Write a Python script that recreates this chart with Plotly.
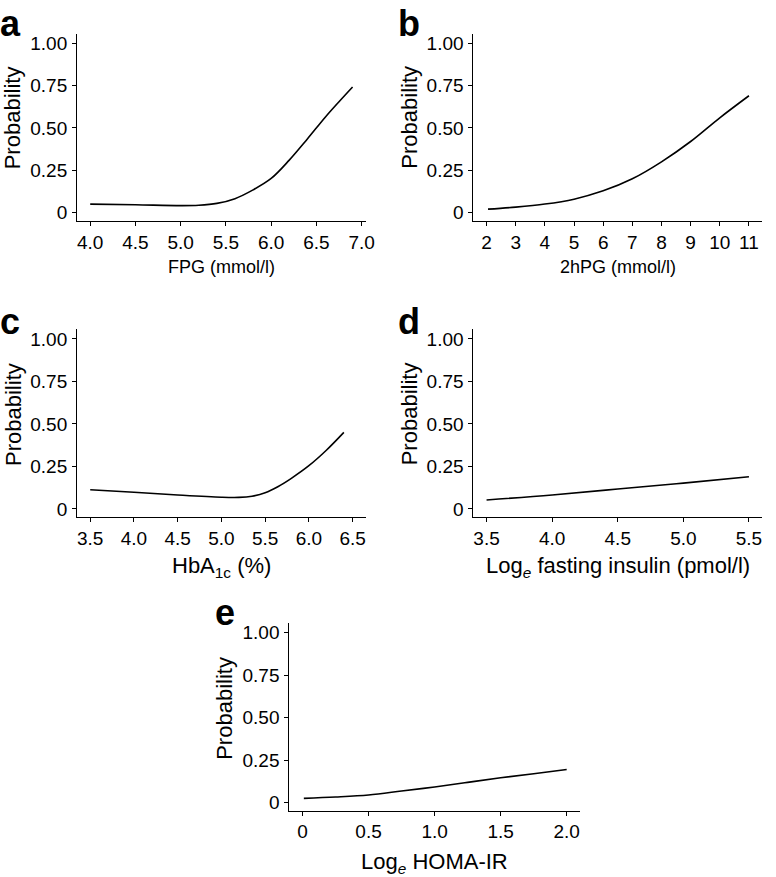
import plotly.graph_objects as go

# ---------------- data ----------------
fpg_x = [4.0, 4.5, 5.0, 5.2, 5.4, 5.6, 5.8, 6.0, 6.2, 6.4, 6.6, 6.75, 6.9]
fpg_y = [0.051, 0.047, 0.042, 0.044, 0.055, 0.083, 0.135, 0.202, 0.31, 0.435, 0.565, 0.655, 0.742]

pg2h_x = [2.05, 3, 4, 5, 6, 7, 8, 9, 10, 11]
pg2h_y = [0.021, 0.033, 0.051, 0.080, 0.129, 0.200, 0.300, 0.420, 0.560, 0.690]

hba_x = [3.5, 4.0, 4.5, 5.0, 5.2, 5.35, 5.5, 5.65, 5.8, 6.0, 6.2, 6.4]
hba_y = [0.113, 0.098, 0.082, 0.069, 0.068, 0.075, 0.095, 0.132, 0.18, 0.254, 0.345, 0.450]

ins_x = [3.5, 4.0, 4.5, 5.0, 5.5]
ins_y = [0.053, 0.082, 0.117, 0.152, 0.189]

homa_x = [0.01, 0.25, 0.5, 0.75, 1.0, 1.25, 1.5, 1.75, 2.0]
homa_y = [0.025, 0.033, 0.045, 0.068, 0.092, 0.119, 0.146, 0.170, 0.195]

prob_ticks = [0, 0.25, 0.5, 0.75, 1.0]
prob_labels = ["0", "0.25", "0.50", "0.75", "1.00"]

fpg_ticks = [4.0, 4.5, 5.0, 5.5, 6.0, 6.5, 7.0]
pg2h_ticks = [2, 3, 4, 5, 6, 7, 8, 9, 10, 11]
hba_ticks = [3.5, 4.0, 4.5, 5.0, 5.5, 6.0, 6.5]
ins_ticks = [3.5, 4.0, 4.5, 5.0, 5.5]
homa_ticks = [0, 0.5, 1.0, 1.5, 2.0]
homa_labels = ["0", "0.5", "1.0", "1.5", "2.0"]

panel_letters = ["a", "b", "c", "d", "e"]
x_titles = ["FPG (mmol/l)", "2hPG (mmol/l)", "HbA<sub>1c</sub> (%)",
            "Log<sub><i>e</i></sub> fasting insulin (pmol/l)", "Log<sub><i>e</i></sub> HOMA-IR"]

# ---------------- layout geometry (pixels) ----------------
W, H = 776, 877
FONT = "Liberation Sans, Arial, Helvetica, sans-serif"


def px(x):
    return x / W


def py(y):
    return 1 - y / H


panels = [
    dict(xd=(78, 370), yd=(33, 220.7), xr=(3.855, 7.045)),
    dict(xd=(479, 771), yd=(33, 220.7), xr=(1.55, 11.45)),
    dict(xd=(78, 370), yd=(330, 518.3), xr=(3.35, 6.65)),
    dict(xd=(479, 771), yd=(330, 518.3), xr=(3.4, 5.6)),
    dict(xd=(292.7, 586.7), yd=(625, 813.3), xr=(-0.1, 2.1)),
]
series = [(fpg_x, fpg_y), (pg2h_x, pg2h_y), (hba_x, hba_y), (ins_x, ins_y), (homa_x, homa_y)]
xticks = [
    (fpg_ticks, [f"{v:.1f}" for v in fpg_ticks]),
    (pg2h_ticks, [str(v) for v in pg2h_ticks]),
    (hba_ticks, [f"{v:.1f}" for v in hba_ticks]),
    (ins_ticks, [f"{v:.1f}" for v in ins_ticks]),
    (homa_ticks, homa_labels),
]
xtitle_sizes = [18, 18, 22, 22, 22]
xtitle_base = [272, 272, 573, 573, 870]
ytitle_center = [117, 117, 415, 415, 711]
letter_pos = [(-2, 33), (401, 33), (-2, 333), (401, 333), (215, 625)]

fig = go.Figure()
annotations = []
layout = dict(
    width=W, height=H, autosize=False,
    margin=dict(l=0, r=0, t=0, b=0),
    paper_bgcolor="white", plot_bgcolor="white",
    showlegend=False,
    font=dict(family=FONT, color="black"),
)

for i, (p, (xs, ys)) in enumerate(zip(panels, series)):
    n = "" if i == 0 else str(i + 1)
    fig.add_trace(go.Scatter(
        x=xs, y=ys, mode="lines",
        line=dict(color="black", width=1.6, shape="spline", smoothing=1.0),
        xaxis="x" + n, yaxis="y" + n, hoverinfo="skip",
    ))
    common = dict(showline=True, linecolor="black", linewidth=1.1,
                  ticks="outside", ticklen=4, tickwidth=1, tickcolor="black",
                  showgrid=False, zeroline=False,
                  tickfont=dict(family=FONT, size=19, color="black"))
    layout["xaxis" + n] = dict(
        domain=[px(p["xd"][0]), px(p["xd"][1])], range=list(p["xr"]),
        anchor="y" + n, tickmode="array",
        tickvals=xticks[i][0], ticktext=xticks[i][1], **common)
    layout["yaxis" + n] = dict(
        domain=[py(p["yd"][1]), py(p["yd"][0])], range=[-0.047, 1.055],
        anchor="x" + n, tickmode="array",
        tickvals=prob_ticks, ticktext=prob_labels, ticklabelstandoff=1, **common)

    # x-axis title
    cx = (p["xd"][0] + p["xd"][1]) / 2
    s = xtitle_sizes[i]
    annotations.append(dict(
        x=px(cx), y=py(xtitle_base[i] - 0.93 * s), xref="paper", yref="paper",
        xanchor="center", yanchor="top", showarrow=False,
        text=x_titles[i], font=dict(family=FONT, size=s, color="black")))
    # y-axis title
    annotations.append(dict(
        x=px(p["xd"][0] - 65), y=py(ytitle_center[i]), xref="paper", yref="paper",
        xanchor="center", yanchor="middle", showarrow=False, textangle=-90,
        text="Probability", font=dict(family=FONT, size=22, color="black")))
    # panel letter
    lx, ly = letter_pos[i]
    annotations.append(dict(
        x=px(lx), y=py(ly - 0.93 * 36), xref="paper", yref="paper",
        xanchor="left", yanchor="top", showarrow=False,
        text="<b>" + panel_letters[i] + "</b>",
        font=dict(family=FONT, size=36, color="black")))

layout["annotations"] = annotations
fig.update_layout(**layout)
fig.write_html("out.html", config={"displayModeBar": False},
               post_script="document.body.style.margin='0';document.body.style.padding='0';")
